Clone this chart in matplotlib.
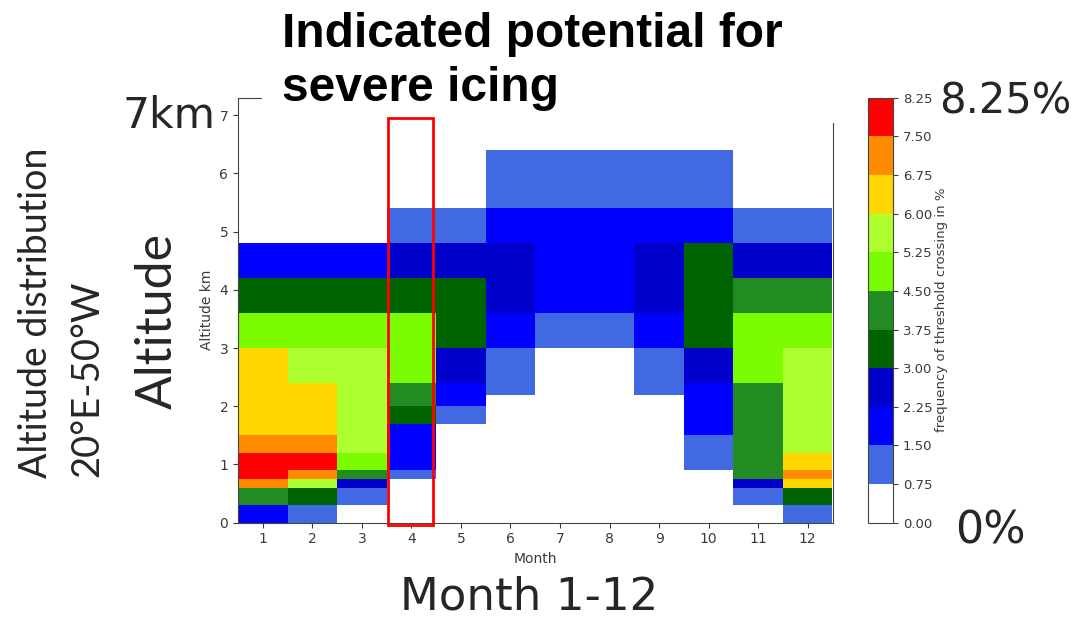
import numpy as np
import matplotlib
matplotlib.use("Agg")
import matplotlib.pyplot as plt
from matplotlib.colors import ListedColormap, BoundaryNorm
from matplotlib.patches import Rectangle


# inputs
months = np.arange(1, 13)
alt_edges = [0, 0.3, 0.6, 0.75, 0.9, 1.2, 1.5, 1.7, 2.0, 2.2, 2.4,
             3.0, 3.6, 4.2, 4.8, 5.4, 6.4, 7.3]   # km
levels = np.arange(0, 8.26, 0.75)                 # % classes of the colour bar
level_colors = ["white", "royalblue", "blue", "mediumblue", "darkgreen",
                "forestgreen", "lawngreen", "greenyellow", "gold",
                "darkorange", "red"]

# frequency of threshold crossing in %, one row per altitude layer (bottom -> top), Jan..Dec
freq = [
    [1.9, 1.1, 0.0, 0.0, 0.0, 0.0, 0.0, 0.0, 0.0, 0.0, 0.0, 1.1],
    [4.1, 3.4, 1.1, 0.0, 0.0, 0.0, 0.0, 0.0, 0.0, 0.0, 1.1, 3.4],
    [7.1, 5.6, 2.6, 0.0, 0.0, 0.0, 0.0, 0.0, 0.0, 0.0, 2.6, 6.4],
    [7.9, 7.1, 4.1, 1.1, 0.0, 0.0, 0.0, 0.0, 0.0, 0.0, 4.1, 7.1],
    [7.9, 7.9, 4.9, 1.9, 0.0, 0.0, 0.0, 0.0, 0.0, 1.1, 4.1, 6.4],
    [7.1, 7.1, 5.6, 1.9, 0.0, 0.0, 0.0, 0.0, 0.0, 1.1, 4.1, 5.6],
    [6.4, 6.4, 5.6, 1.9, 0.0, 0.0, 0.0, 0.0, 0.0, 1.9, 4.1, 5.6],
    [6.4, 6.4, 5.6, 3.4, 1.1, 0.0, 0.0, 0.0, 0.0, 1.9, 4.1, 5.6],
    [6.4, 6.4, 5.6, 4.1, 1.9, 0.0, 0.0, 0.0, 0.0, 1.9, 4.1, 5.6],
    [6.4, 6.4, 5.6, 4.1, 1.9, 1.1, 0.0, 0.0, 1.1, 1.9, 4.1, 5.6],
    [6.4, 5.6, 5.6, 4.9, 2.6, 1.1, 0.0, 0.0, 1.1, 2.6, 4.9, 5.6],
    [4.9, 4.9, 4.9, 4.9, 3.4, 1.9, 1.1, 1.1, 1.9, 3.4, 4.9, 4.9],
    [3.4, 3.4, 3.4, 3.4, 3.4, 2.6, 1.9, 1.9, 2.6, 3.4, 4.1, 4.1],
    [1.9, 1.9, 1.9, 2.6, 2.6, 2.6, 1.9, 1.9, 2.6, 3.4, 2.6, 2.6],
    [0.0, 0.0, 0.0, 1.1, 1.1, 1.9, 1.9, 1.9, 1.9, 1.9, 1.1, 1.1],
    [0.0, 0.0, 0.0, 0.0, 0.0, 1.1, 1.1, 1.1, 1.1, 1.1, 0.0, 0.0],
    [0.0, 0.0, 0.0, 0.0, 0.0, 0.0, 0.0, 0.0, 0.0, 0.0, 0.0, 0.0],
]

highlight_month = 4
W, H = 1081, 618
dark = "#262626"
small = "#3a3a3a"


cmap = ListedColormap(level_colors)
norm = BoundaryNorm(levels, cmap.N)
month_edges = np.append(months - 0.5, months[-1] + 0.5)

fig = plt.figure(figsize=(W / 100, H / 100), dpi=100)
ax = fig.add_axes([238 / W, 1 - 522.7 / H, 594.5 / W, 425 / H])
cax = fig.add_axes([868 / W, 1 - 522.7 / H, 25 / W, 425 / H])

pcm = ax.pcolormesh(month_edges, alt_edges, np.array(freq), cmap=cmap, norm=norm)

ax.set_xlim(0.5, 12.5)
ax.set_ylim(0, alt_edges[-1])
ax.set_xticks(months)
ax.set_yticks(range(8))
ax.set_xlabel("Month", fontsize=10, color=small)
ax.set_ylabel("Altitude km", fontsize=10, color=small)
ax.tick_params(labelsize=10, labelcolor=small, color=small)
for sp in ax.spines.values():
    sp.set_color("#444444")

cb = fig.colorbar(pcm, cax=cax, ticks=levels, format="%.2f")
cb.set_label("frequency of threshold crossing in %", fontsize=9.5, color=small,
             labelpad=2)
cb.ax.tick_params(labelsize=9.5, labelcolor=small, color=small)
cb.outline.set_edgecolor("#444444")

# white box behind the heading, hiding the top of the frame
fig.add_artist(Rectangle((262 / W, 1 - 123 / H), 583 / W, 123 / H,
                         transform=fig.transFigure, facecolor="white",
                         edgecolor="none", zorder=1))

# highlighted month
fig.add_artist(Rectangle((highlight_month - 0.48, -0.04), 0.92, 6.99,
                         transform=ax.transData, fill=False,
                         edgecolor="red", linewidth=2, zorder=2))

fig.text(282 / W, 1 - 12 / H, "Indicated potential for\nsevere icing",
         ha="left", va="top", fontsize=34.5, fontweight="bold",
         family="Liberation Sans", color="black", linespacing=1.25)

fig.text(215 / W, 1 - 128 / H, "7km", ha="right", va="baseline",
         fontsize=30.5, color=dark)
fig.text(529 / W, 1 - 610 / H, "Month 1-12", ha="center", va="baseline",
         fontsize=32.5, color=dark)
fig.text(939 / W, 1 - 113 / H, "8.25%", ha="left", va="baseline",
         fontsize=30, color=dark)
fig.text(955 / W, 1 - 543 / H, "0%", ha="left", va="baseline",
         fontsize=32, color=dark)

rot = dict(rotation=90, rotation_mode="anchor", ha="left", va="baseline",
           family="Lato", color=dark)
fig.text(47 / W, 1 - 478 / H, "Altitude distribution", fontsize=27, **rot)
fig.text(98 / W, 1 - 477 / H, "20°E-50°W", fontsize=27.5, **rot)
fig.text(172 / W, 1 - 409 / H, "Altitude", fontsize=36, **rot)

fig.savefig("out.png", dpi=100)
